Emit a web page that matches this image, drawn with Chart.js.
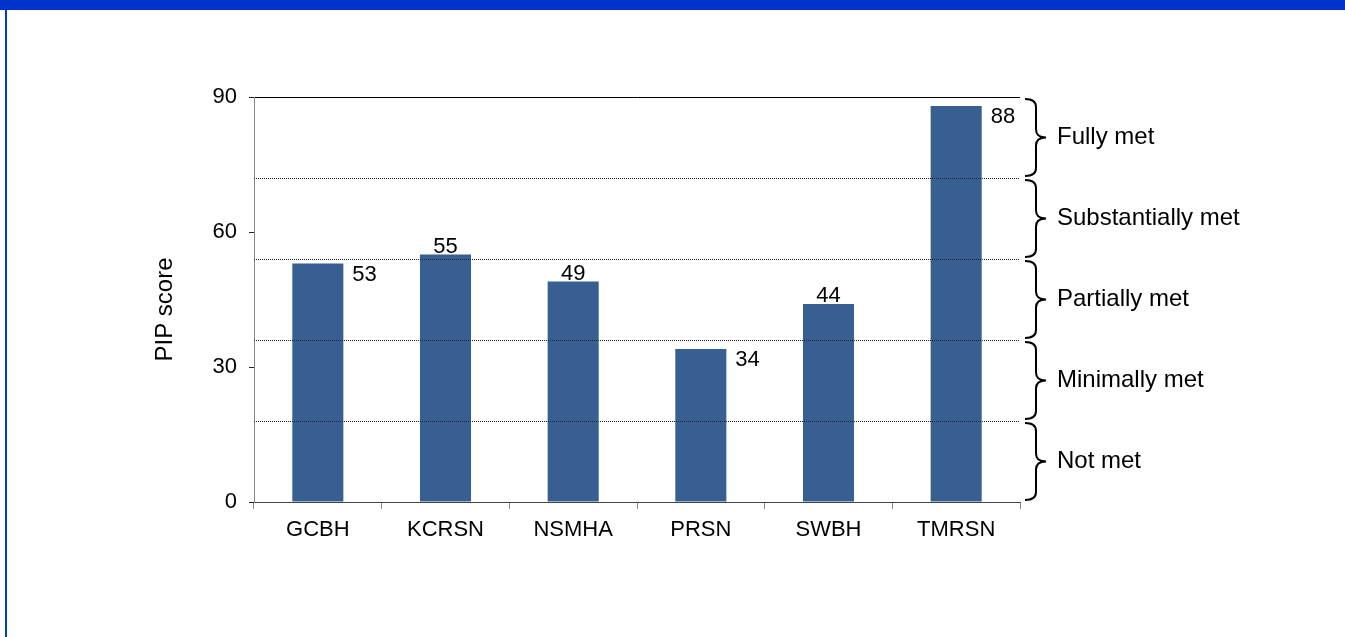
<!DOCTYPE html>
<html>
<head>
<meta charset="utf-8">
<title>PIP score</title>
<script src="https://cdn.jsdelivr.net/npm/chart.js@4.4.1/dist/chart.umd.min.js"></script>
<style>
    html, body { margin: 0; padding: 0; background: #fff; }
    body { width: 1345px; height: 637px; position: relative; overflow: hidden; }
    .banda-top { position: absolute; left: 0; top: 0; width: 1345px; height: 10px; background: #0033cc; }
    .linea-izq { position: absolute; left: 5px; top: 9px; width: 2px; height: 628px; background: #0037dd; }
    #grafico { position: absolute; left: 0; top: 0; }
</style>
</head>
<body>
<div class="banda-top"></div>
<div class="linea-izq"></div>
<canvas id="grafico" width="1345" height="637"></canvas>
<script>
// Datos
const categorias = ['GCBH', 'KCRSN', 'NSMHA', 'PRSN', 'SWBH', 'TMRSN'];
const puntajes = [53, 55, 49, 34, 44, 88];
const ticksY = [0, 30, 60, 90];
const limitesNivel = [0, 18, 36, 54, 72, 90];
const nombresNivel = ['Not met', 'Minimally met', 'Partially met', 'Substantially met', 'Fully met'];
const tituloY = 'PIP score';

// donde va la etiqueta de cada barra
const posEtiqueta = ['right', 'top', 'top', 'right', 'top', 'right'];

const fuente = 'Liberation Sans, Arial, sans-serif';
const colorBarra = '#375f92';

// lineas punteadas, llaves, nombres de nivel y titulo del eje
const nivelesPlugin = {
    id: 'niveles',
    afterDatasetsDraw(chart) {
        const ctx = chart.ctx;
        const area = chart.chartArea;
        const y = chart.scales.y;

        ctx.save();
        // lineas punteadas entre niveles
        ctx.strokeStyle = '#222';
        ctx.lineWidth = 1;
        ctx.setLineDash([1, 1]);
        limitesNivel.slice(1, -1).forEach(v => {
            const py = Math.round(y.getPixelForValue(v)) + 0.5;
            ctx.beginPath();
            ctx.moveTo(area.left, py);
            ctx.lineTo(area.right, py);
            ctx.stroke();
        });
        ctx.setLineDash([]);

        // llaves
        const x0 = area.right + 5, x1 = area.right + 16, x2 = area.right + 26, r = 8;
        ctx.strokeStyle = '#000';
        ctx.lineWidth = 2;
        ctx.font = '24px ' + fuente;
        ctx.fillStyle = '#000';
        ctx.textBaseline = 'middle';
        ctx.textAlign = 'left';
        for (let i = 0; i < nombresNivel.length; i++) {
            const bot = y.getPixelForValue(limitesNivel[i]) - 2;
            const top = y.getPixelForValue(limitesNivel[i + 1]) + 2;
            const mid = (top + bot) / 2;
            ctx.beginPath();
            ctx.moveTo(x0, top);
            ctx.quadraticCurveTo(x1, top, x1, top + r);
            ctx.lineTo(x1, mid - r);
            ctx.quadraticCurveTo(x1, mid, x2, mid);
            ctx.quadraticCurveTo(x1, mid, x1, mid + r);
            ctx.lineTo(x1, bot - r);
            ctx.quadraticCurveTo(x1, bot, x0, bot);
            ctx.stroke();
            ctx.fillText(nombresNivel[i], area.right + 37, mid);
        }

        // valores de las barras
        const meta = chart.getDatasetMeta(0);
        ctx.font = '22px ' + fuente;
        ctx.textBaseline = 'alphabetic';
        meta.data.forEach((barra, i) => {
            const v = chart.data.datasets[0].data[i];
            if (posEtiqueta[i] === 'right') {
                ctx.textAlign = 'left';
                ctx.fillText(v, barra.x + barra.width / 2 + 9, barra.y + 17);
            } else {
                ctx.textAlign = 'center';
                ctx.fillText(v, barra.x, barra.y - 2);
            }
        });

        // titulo del eje y, un poco por debajo del centro
        ctx.font = '24px ' + fuente;
        ctx.textAlign = 'center';
        ctx.textBaseline = 'middle';
        ctx.translate(y.left + 13, (area.top + area.bottom) / 2 + 10);
        ctx.rotate(-Math.PI / 2);
        ctx.fillText(tituloY, 0, 0);
        ctx.restore();
    }
};

new Chart(document.getElementById('grafico'), {
    type: 'bar',
    data: {
        labels: categorias,
        datasets: [{
            label: tituloY,
            data: puntajes,
            backgroundColor: colorBarra,
            barPercentage: 0.4,
            categoryPercentage: 1
        }]
    },
    options: {
        responsive: false,
        animation: false,
        layout: { padding: { left: 152, right: 325, top: 97, bottom: 75 } },
        plugins: {
            legend: { display: false },
            tooltip: { enabled: false }
        },
        scales: {
            x: {
                afterFit: s => { s.height = 60; },
                border: { color: '#444', width: 1 },
                grid: { drawOnChartArea: false, tickLength: 7, color: '#888' },
                ticks: { color: '#000', padding: 8, font: { family: fuente, size: 22 } }
            },
            y: {
                min: 0,
                max: 90,
                afterFit: s => { s.width = 102; },
                afterBuildTicks: s => { s.ticks = ticksY.map(v => ({ value: v })); },
                border: { color: '#888', width: 1 },
                grid: {
                    color: c => c.tick && c.tick.value === 90 ? '#000' : 'rgba(0,0,0,0)',
                    tickColor: '#222',
                    tickLength: 5
                },
                ticks: { color: '#000', padding: 12, font: { family: fuente, size: 22 } }
            }
        }
    },
    plugins: [nivelesPlugin]
});
</script>
</body>
</html>
